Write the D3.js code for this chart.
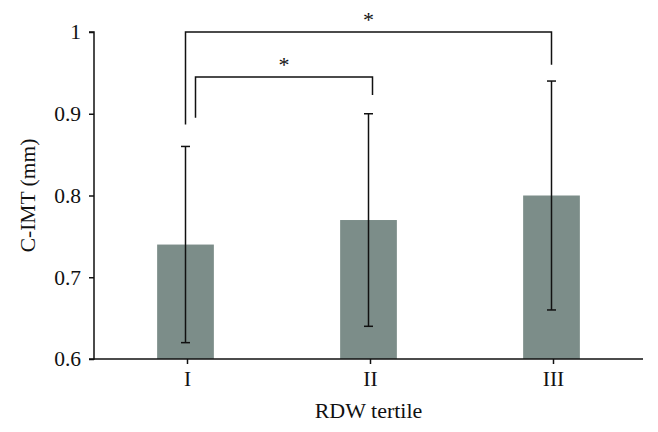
<!DOCTYPE html>
<html>
<head>
<meta charset="utf-8">
<script src="https://cdn.jsdelivr.net/npm/d3@7"></script>
<style>
  body { margin: 0; background: #fff; }
  text { font-family: "Liberation Serif", "DejaVu Serif", serif; fill: #111; }
</style>
</head>
<body>
<div id="chart"></div>
<script>
// tertile groups and their mean C-IMT with error bar ends
const tertiles = ["I", "II", "III"];
const means = [0.74, 0.77, 0.80];
const errLow = [0.62, 0.64, 0.66];
const errHigh = [0.86, 0.90, 0.94];
const yTicks = [0.6, 0.7, 0.8, 0.9, 1];

// significance brackets: [from group, to group, top, left foot, right foot]
const brackets = [
    {from: "I", to: "III", top: 1.0, leftEnd: 0.887, rightEnd: 0.96},
    {from: "I", to: "II", top: 0.945, leftEnd: 0.895, rightEnd: 0.923}
];

const width = 658, height = 432;
const margin = {top: 32, right: 15, bottom: 73, left: 94};

const svg = d3.select("#chart").append("svg")
    .attr("width", width)
    .attr("height", height);

const g = svg.append("g")
    .attr("transform", `translate(${margin.left},${margin.top})`);

const w = width - margin.left - margin.right;
const h = height - margin.top - margin.bottom;

const x = d3.scaleBand()
    .domain(tertiles)
    .range([0, w])
    .paddingInner(0.69)
    .paddingOuter(0.345);

const y = d3.scaleLinear()
    .domain([0.6, 1])
    .range([h, 0]);

const data = tertiles.map((t, i) => ({t, mean: means[i], lo: errLow[i], hi: errHigh[i]}));

// bars
g.selectAll("rect.bar")
    .data(data)
    .enter().append("rect")
    .attr("class", "bar")
    .attr("x", d => x(d.t))
    .attr("y", d => y(d.mean))
    .attr("width", x.bandwidth())
    .attr("height", d => h - y(d.mean))
    .attr("fill", "#7c8d89");

// error bars
const cx = d => x(d) + x.bandwidth() / 2;
const err = g.selectAll("g.err")
    .data(data)
    .enter().append("g")
    .attr("class", "err")
    .attr("stroke", "#111")
    .attr("stroke-width", 1.5);

err.append("line")
    .attr("x1", d => cx(d.t)).attr("x2", d => cx(d.t))
    .attr("y1", d => y(d.lo)).attr("y2", d => y(d.hi));
err.append("line")
    .attr("x1", d => cx(d.t) - 4.5).attr("x2", d => cx(d.t) + 4.5)
    .attr("y1", d => y(d.hi)).attr("y2", d => y(d.hi));
err.append("line")
    .attr("x1", d => cx(d.t) - 4.5).attr("x2", d => cx(d.t) + 4.5)
    .attr("y1", d => y(d.lo)).attr("y2", d => y(d.lo));

// axes
const yAxis = d3.axisLeft(y)
    .tickValues(yTicks)
    .tickFormat(d => d === 1 ? "1" : d3.format(".1f")(d))
    .tickSize(5)
    .tickPadding(8);

const xAxis = d3.axisBottom(x)
    .tickSize(5)
    .tickPadding(7);

const gy = g.append("g").call(yAxis);
const gx = g.append("g").attr("transform", `translate(0,${h})`).call(xAxis);

[gx, gy].forEach(a => {
    a.select(".domain").attr("stroke", "#111").attr("stroke-width", 1.5);
    a.selectAll(".tick line").attr("stroke", "#111").attr("stroke-width", 1.5);
    a.selectAll(".tick text").style("font-size", "21.5px")
        .attr("font-family", "Liberation Serif").attr("fill", "#111");
});
gx.selectAll(".tick").attr("transform", d => `translate(${cx(d) + 2},0)`);
gy.select(".domain").attr("d", `M-5,${h}H0V0H-5`);
gx.select(".domain").attr("d", `M0,0H${w}`);

// significance brackets
const offs = {"I-III": [0, 0], "I-II": [10, 4]};
brackets.forEach(b => {
    const o = offs[b.from + "-" + b.to];
    const x1 = cx(b.from) + o[0], x2 = cx(b.to) + o[1];
    g.append("path")
        .attr("d", `M${x1},${y(b.leftEnd)}V${y(b.top)}H${x2}V${y(b.rightEnd)}`)
        .attr("fill", "none")
        .attr("stroke", "#111")
        .attr("stroke-width", 1.5);
    g.append("text")
        .attr("x", (x1 + x2) / 2)
        .attr("y", y(b.top) - 5)
        .attr("text-anchor", "middle")
        .style("font-size", "22px")
        .text("*");
});

// axis titles
svg.append("text")
    .attr("x", margin.left + w / 2)
    .attr("y", 418)
    .attr("text-anchor", "middle")
    .style("font-size", "22px")
    .text("RDW tertile");

svg.append("text")
    .attr("transform", `translate(35,${margin.top + h / 2}) rotate(-90)`)
    .attr("text-anchor", "middle")
    .style("font-size", "21.5px")
    .text("C-IMT (mm)");
</script>
</body>
</html>
